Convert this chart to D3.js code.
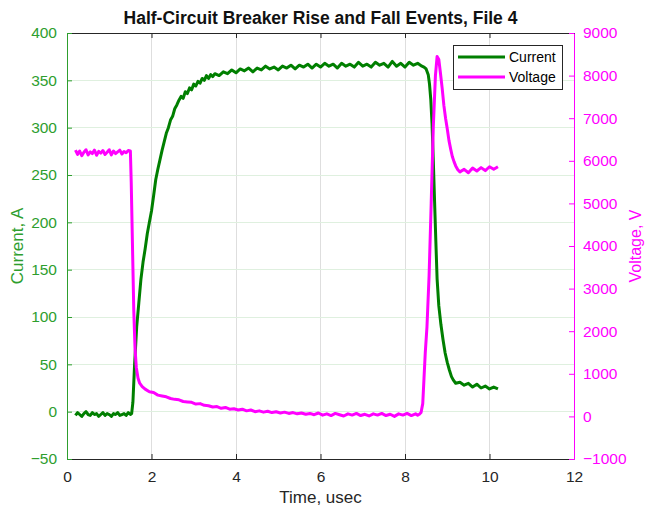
<!DOCTYPE html>
<html>
<head>
<meta charset="utf-8">
<script src="https://cdn.jsdelivr.net/npm/d3@7"></script>
<style>
  html, body { margin: 0; padding: 0; background: #fff; }
  svg { display: block; }
  text { font-family: "Liberation Sans", Arial, Helvetica, sans-serif; }
</style>
</head>
<body>
<svg id="chart" width="646" height="510"></svg>
<script>
// ---------------- data ----------------
const chartTitle = "Half-Circuit Breaker Rise and Fall Events, File 4";
const xLabel = "Time, usec";
const leftLabel = "Current, A";
const rightLabel = "Voltage, V";
const seriesNames = ["Current", "Voltage"];

const timeTicks = [0, 2, 4, 6, 8, 10, 12];
const currentTicks = [-50, 0, 50, 100, 150, 200, 250, 300, 350, 400];
const voltageTicks = [-1000, 0, 1000, 2000, 3000, 4000, 5000, 6000, 7000, 8000, 9000];

const currentTime = [
  0.20, 0.25, 0.30, 0.35, 0.40, 0.45, 0.50, 0.55, 0.60, 0.65, 0.70, 0.75, 0.80, 0.85,
  0.90, 0.95, 1.00, 1.05, 1.10, 1.15, 1.20, 1.25, 1.30, 1.35, 1.40, 1.45, 1.50,
  1.53, 1.56, 1.60, 1.65, 1.70, 1.75, 1.80, 1.85, 1.90, 1.95, 2.00, 2.05, 2.10, 2.15,
  2.20, 2.25, 2.30, 2.35, 2.40, 2.45, 2.50, 2.55, 2.60, 2.65, 2.70, 2.75, 2.80, 2.85,
  2.90, 2.95, 3.00, 3.05, 3.10, 3.15, 3.20, 3.25, 3.30, 3.35, 3.40, 3.45, 3.50, 3.60,
  3.70, 3.80, 3.90, 4.00, 4.10, 4.20, 4.30, 4.40, 4.50, 4.60, 4.70, 4.80, 4.90, 5.00,
  5.10, 5.20, 5.30, 5.40, 5.50, 5.60, 5.70, 5.80, 5.90, 6.00, 6.10, 6.20, 6.30, 6.40,
  6.50, 6.60, 6.70, 6.80, 6.90, 7.00, 7.10, 7.20, 7.30, 7.40, 7.50, 7.60, 7.70, 7.80,
  7.90, 8.00, 8.10, 8.20, 8.30, 8.40, 8.45, 8.50, 8.55, 8.58, 8.61, 8.64, 8.67, 8.70,
  8.73, 8.76, 8.80, 8.85, 8.90, 8.95, 9.00, 9.05, 9.10, 9.15, 9.20, 9.30, 9.40, 9.50,
  9.60, 9.70, 9.80, 9.90, 10.00, 10.10, 10.20
];
const currentAmps = [
  -4, -1, -3, -5, -2, 0, -3, -4, -1, -3, -2, -5, -3, -1,
  -4, -2, -3, -5, -2, -3, -1, -4, -3, -2, -4, -1, -3,
  -2, 10, 50, 90, 115, 140, 158, 172, 188, 200, 212, 228, 245, 256,
  266, 276, 285, 294, 300, 308, 312, 320, 324, 329, 333, 331, 338, 336,
  342, 340, 346, 344, 349, 347, 352, 350, 355, 352, 356, 354, 357, 355,
  359, 357, 361, 358, 362, 360, 363, 359, 363, 361, 365, 362, 364, 361,
  365, 363, 366, 362, 366, 364, 367, 363, 367, 364, 368, 365, 367, 363,
  368, 365, 367, 364, 369, 365, 367, 364, 369, 366, 368, 364, 370, 365,
  368, 364, 369, 366, 368, 365, 364, 362, 356, 346, 330, 304, 265, 222,
  180, 140, 112, 92, 76, 62, 52, 44, 37, 33, 30, 31, 28, 30,
  26, 29, 25, 27, 24, 26, 24
];

const voltageTime = [
  0.20, 0.25, 0.30, 0.35, 0.40, 0.45, 0.50, 0.55, 0.60, 0.65, 0.70, 0.75, 0.80, 0.85,
  0.90, 0.95, 1.00, 1.05, 1.10, 1.15, 1.20, 1.25, 1.30, 1.35, 1.40, 1.45,
  1.50, 1.52, 1.55, 1.58, 1.61, 1.64, 1.68, 1.72, 1.78, 1.85, 1.95, 2.05, 2.15, 2.25,
  2.35, 2.45, 2.55, 2.65, 2.75, 2.85, 2.95, 3.05, 3.15, 3.25, 3.35, 3.45, 3.55, 3.65,
  3.75, 3.85, 3.95, 4.05, 4.15, 4.25, 4.35, 4.45, 4.55, 4.65, 4.75, 4.85, 4.95, 5.05,
  5.15, 5.25, 5.35, 5.45, 5.55, 5.65, 5.75, 5.85, 5.95, 6.05, 6.15, 6.25, 6.35, 6.45,
  6.55, 6.65, 6.75, 6.85, 6.95, 7.05, 7.15, 7.25, 7.35, 7.45, 7.55, 7.65, 7.75, 7.85,
  7.95, 8.05, 8.15, 8.25, 8.30, 8.34, 8.38, 8.42, 8.45, 8.48, 8.52, 8.57, 8.62, 8.67,
  8.72, 8.76, 8.80, 8.84, 8.88, 8.92, 8.96, 9.00, 9.04, 9.08, 9.12, 9.16, 9.20, 9.25,
  9.30, 9.40, 9.50, 9.60, 9.70, 9.80, 9.90, 10.00, 10.10, 10.20
];
const voltageVolts = [
  6250, 6150, 6230, 6120, 6200, 6260, 6140, 6210, 6170, 6250, 6130, 6220, 6180, 6240,
  6150, 6200, 6260, 6140, 6230, 6170, 6210, 6250, 6160, 6220, 6190, 6240,
  6230, 5500, 4000, 2500, 1600, 1150, 900, 780, 700, 640, 580, 560, 500, 480,
  460, 420, 400, 390, 350, 340, 330, 290, 300, 260, 250, 220, 230, 190,
  210, 170, 180, 150, 170, 130, 150, 110, 130, 100, 120, 90, 110, 80,
  100, 70, 90, 60, 80, 50, 70, 40, 80, 30, 60, 20, 70, 40,
  10, 60, 30, 70, 20, 50, 10, 60, 30, 70, 20, 50, 0, 60,
  30, 70, 20, 60, 30, 50, 90, 300, 900, 1500, 2100, 3300, 5000, 6800,
  8000, 8450, 8380, 8050, 7700, 7300, 7000, 6750, 6480, 6280, 6100, 5980, 5880, 5790,
  5740, 5800, 5720, 5830, 5760, 5840, 5770, 5860, 5800, 5860
];

// ---------------- layout ----------------
const plot = { left: 67, right: 574, top: 33, bottom: 459 };
const colors = {
  current: "#007f00",
  voltage: "#ff00ff",
  leftAxis: "#2e9e2e",
  rightAxis: "#ff00ff",
  frame: "#262626",
  vgrid: "#dedede",
  hgrid: "#dff0df"
};

const svg = d3.select("#chart");

const x = d3.scaleLinear().domain([0, 12]).range([plot.left, plot.right]);
const yL = d3.scaleLinear().domain([-50, 400]).range([plot.bottom, plot.top]);
const yR = d3.scaleLinear().domain([-1000, 9000]).range([plot.bottom, plot.top]);

// background
svg.append("rect").attr("x", 0).attr("y", 0).attr("width", 646).attr("height", 510).attr("fill", "#fff");

// grid
const grid = svg.append("g");
grid.selectAll("line.v").data(timeTicks.slice(1, -1)).enter().append("line")
  .attr("x1", d => x(d)).attr("x2", d => x(d))
  .attr("y1", plot.top).attr("y2", plot.bottom)
  .attr("stroke", colors.vgrid).attr("stroke-width", 1).attr("shape-rendering", "crispEdges");
grid.selectAll("line.h").data(currentTicks.slice(1, -1)).enter().append("line")
  .attr("x1", plot.left).attr("x2", plot.right)
  .attr("y1", d => yL(d)).attr("y2", d => yL(d))
  .attr("stroke", colors.hgrid).attr("stroke-width", 1).attr("shape-rendering", "crispEdges");

// axes
const tickFont = "15.5px";
const xAxisB = d3.axisBottom(x).tickValues(timeTicks).tickSizeInner(-5).tickSizeOuter(0).tickPadding(12).tickFormat(d3.format("d"));
const gxb = svg.append("g").attr("transform", `translate(0,${plot.bottom})`).call(xAxisB);
gxb.select(".domain").attr("stroke", colors.frame);
gxb.selectAll(".tick line").attr("stroke", colors.frame);
gxb.selectAll(".tick text").attr("fill", "#262626").style("font-size", tickFont).style("font-family", '"Liberation Sans", Arial, sans-serif');

const xAxisT = d3.axisTop(x).tickValues(timeTicks).tickSizeInner(-5).tickSizeOuter(0).tickFormat("");
const gxt = svg.append("g").attr("transform", `translate(0,${plot.top})`).call(xAxisT);
gxt.select(".domain").attr("stroke", colors.frame);
gxt.selectAll(".tick line").attr("stroke", colors.frame);

const yAxisL = d3.axisLeft(yL).tickValues(currentTicks).tickSizeInner(-5).tickSizeOuter(0).tickPadding(10).tickFormat(d3.format("d"));
const gyl = svg.append("g").attr("transform", `translate(${plot.left},0)`).call(yAxisL);
gyl.select(".domain").attr("stroke", colors.leftAxis);
gyl.selectAll(".tick line").attr("stroke", colors.leftAxis);
gyl.selectAll(".tick text").attr("fill", colors.leftAxis).style("font-size", tickFont).style("font-family", '"Liberation Sans", Arial, sans-serif');

const yAxisR = d3.axisRight(yR).tickValues(voltageTicks).tickSizeInner(-5).tickSizeOuter(0).tickPadding(9).tickFormat(d3.format("d"));
const gyr = svg.append("g").attr("transform", `translate(${plot.right},0)`).call(yAxisR);
gyr.select(".domain").attr("stroke", colors.rightAxis);
gyr.selectAll(".tick line").attr("stroke", colors.rightAxis);
gyr.selectAll(".tick text").attr("fill", colors.rightAxis).style("font-size", tickFont).style("font-family", '"Liberation Sans", Arial, sans-serif');

// lines
const currentData = currentTime.map((t, i) => [t, currentAmps[i]]);
const voltageData = voltageTime.map((t, i) => [t, voltageVolts[i]]);

svg.append("path").datum(currentData)
  .attr("fill", "none").attr("stroke", colors.current).attr("stroke-width", 3)
  .attr("stroke-linejoin", "round")
  .attr("d", d3.line().x(d => x(d[0])).y(d => yL(d[1])));

svg.append("path").datum(voltageData)
  .attr("fill", "none").attr("stroke", colors.voltage).attr("stroke-width", 3)
  .attr("stroke-linejoin", "round")
  .attr("d", d3.line().x(d => x(d[0])).y(d => yR(d[1])));

// title
svg.append("text").attr("x", (plot.left + plot.right) / 2).attr("y", 24)
  .attr("text-anchor", "middle").attr("font-weight", "bold").attr("font-size", "17.5px")
  .attr("fill", "#111").text(chartTitle);

// axis labels
svg.append("text").attr("x", (plot.left + plot.right) / 2).attr("y", 503)
  .attr("text-anchor", "middle").attr("font-size", "17px").attr("fill", "#262626").text(xLabel);

svg.append("text").attr("transform", `translate(23,${(plot.top + plot.bottom) / 2}) rotate(-90)`)
  .attr("text-anchor", "middle").attr("font-size", "17px").attr("fill", colors.leftAxis).text(leftLabel);

svg.append("text").attr("transform", `translate(641,${(plot.top + plot.bottom) / 2}) rotate(-90)`)
  .attr("text-anchor", "middle").attr("font-size", "16px").attr("fill", colors.rightAxis).text(rightLabel);

// legend
const legend = svg.append("g").attr("transform", "translate(453,45)");
legend.append("rect").attr("x", 0.5).attr("y", 0.5).attr("width", 109).attr("height", 44)
  .attr("fill", "#fff").attr("stroke", colors.frame).attr("stroke-width", 1);
const legendColors = [colors.current, colors.voltage];
seriesNames.forEach((name, i) => {
  const yy = 12 + i * 20;
  legend.append("line").attr("x1", 5).attr("x2", 52).attr("y1", yy).attr("y2", yy)
    .attr("stroke", legendColors[i]).attr("stroke-width", 3);
  legend.append("text").attr("x", 56).attr("y", yy + 5).attr("font-size", "14px")
    .attr("fill", "#000").text(name);
});
</script>
</body>
</html>
